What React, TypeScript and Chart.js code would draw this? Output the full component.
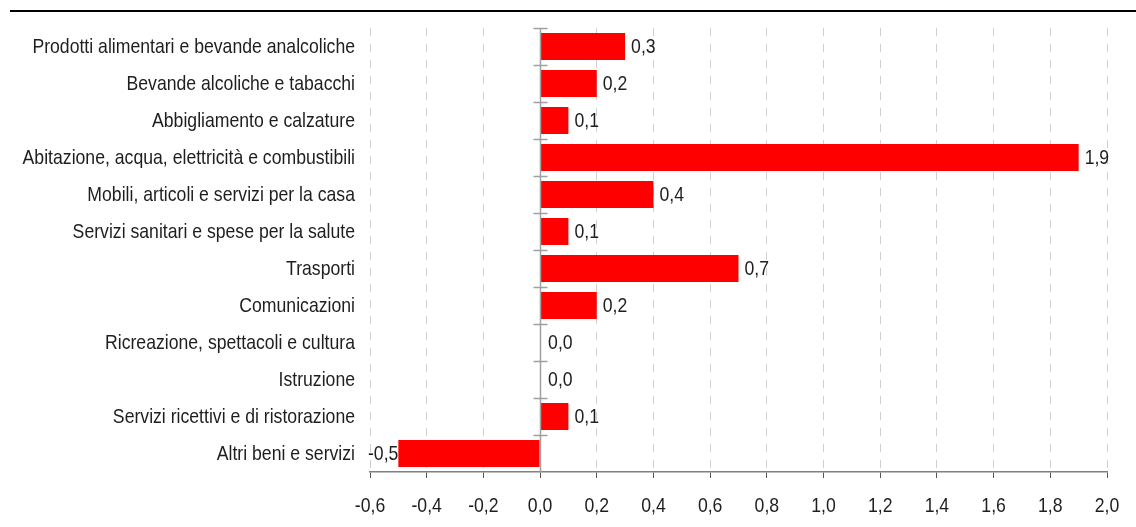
import React, { useEffect, useRef } from "react";
import { Chart, registerables } from "chart.js";

Chart.register(...registerables);

const categories = [
  "Prodotti alimentari e bevande analcoliche",
  "Bevande alcoliche e tabacchi",
  "Abbigliamento e calzature",
  "Abitazione, acqua, elettricità e combustibili",
  "Mobili, articoli e servizi per la casa",
  "Servizi sanitari e spese per la salute",
  "Trasporti",
  "Comunicazioni",
  "Ricreazione, spettacoli e cultura",
  "Istruzione",
  "Servizi ricettivi e di ristorazione",
  "Altri beni e servizi",
];

const values = [0.3, 0.2, 0.1, 1.9, 0.4, 0.1, 0.7, 0.2, 0.0, 0.0, 0.1, -0.5];

const xMin = -0.6;
const xMax = 2.0;
const xStep = 0.2;

const FONT = "'Liberation Sans', Arial, sans-serif";
const FSIZE = 21;
const SQUEEZE = 0.84;
const TEXT = "#1e1e1e";

const fmt = (v: number) => v.toFixed(1).replace(".", ",");

function narrowText(ctx: CanvasRenderingContext2D, t: string, x: number, y: number, align: CanvasTextAlign) {
  ctx.save();
  ctx.translate(x, y);
  ctx.scale(SQUEEZE, 1);
  ctx.textAlign = align;
  ctx.textBaseline = "alphabetic";
  ctx.fillText(t, 0, 0);
  ctx.restore();
}

const decorPlugin = {
  id: "decor",
  beforeDraw(chart: any) {
    const ctx = chart.ctx;
    ctx.save();
    ctx.strokeStyle = "#000";
    ctx.lineWidth = 2;
    ctx.beginPath();
    ctx.moveTo(10, 11);
    ctx.lineTo(chart.width, 11);
    ctx.stroke();
    ctx.restore();
  },
  afterDatasetsDraw(chart: any) {
    const ctx = chart.ctx;
    const area = chart.chartArea;
    const xs = chart.scales.x;
    const ys = chart.scales.y;
    const x0 = Math.round(xs.getPixelForValue(0)) + 0.5;
    const n = categories.length;
    const band = (area.bottom - area.top) / n;
    ctx.save();
    ctx.strokeStyle = "#a0a0a0";
    ctx.lineWidth = 1.5;
    ctx.beginPath();
    ctx.moveTo(x0, area.top);
    ctx.lineTo(x0, area.bottom);
    for (let i = 0; i < n; i++) {
      const y = Math.round(area.top + i * band) + 0.5;
      ctx.moveTo(x0 - 7, y);
      ctx.lineTo(x0 + 7, y);
    }
    ctx.stroke();

    ctx.fillStyle = TEXT;
    ctx.font = `${FSIZE}px ${FONT}`;

    // category labels
    categories.forEach((c, i) => {
      const y = ys.getPixelForValue(i);
      narrowText(ctx, c, area.left - 15, y + 6.5, "right");
    });

    // x tick labels
    xs.ticks.forEach((t: any) => {
      const x = xs.getPixelForValue(t.value);
      narrowText(ctx, fmt(t.value), x, 512, "center");
    });

    // data labels
    const meta = chart.getDatasetMeta(0);
    meta.data.forEach((bar: any, i: number) => {
      const v = values[i];
      const t = fmt(v);
      if (v < 0) {
        narrowText(ctx, t, bar.x, bar.y + 6.5, "right");
      } else {
        narrowText(ctx, t, bar.x + (v === 0 ? 8 : 6), bar.y + 6.5, "left");
      }
    });
    ctx.restore();
  },
};

export default function App() {
  const ref = useRef<HTMLCanvasElement>(null);
  useEffect(() => {
    const chart = new Chart(ref.current!, {
      type: "bar",
      data: {
        labels: categories,
        datasets: [
          {
            data: values,
            backgroundColor: "#ff0000",
            borderWidth: 0,
            categoryPercentage: 1,
            barPercentage: 0.73,
          },
        ],
      },
      options: {
        indexAxis: "y",
        animation: false,
        responsive: false,
        maintainAspectRatio: false,
        layout: { padding: { top: 28, right: 29, bottom: 0, left: 0 } },
        plugins: {
          legend: { display: false },
          tooltip: { enabled: false },
        },
        scales: {
          x: {
            type: "linear",
            min: xMin,
            max: xMax,
            afterFit: (s: any) => {
              s.height = 55;
            },
            ticks: {
              stepSize: xStep,
              color: "rgba(0,0,0,0)",
              padding: 8,
              font: { family: FONT, size: 17 },
              callback: (v: any) => fmt(Number(v)),
            },
            grid: {
              color: (c: any) =>
                c.tick && Math.abs(c.tick.value) < 1e-9 ? "rgba(0,0,0,0)" : "#cfcfcf",
              tickColor: "#555",
              tickLength: 6,
              lineWidth: 1,
            },
            border: { display: true, color: "#808080", width: 1.5, dash: [8, 8] },
          },
          y: {
            type: "category",
            afterFit: (s: any) => {
              s.width = 370;
            },
            grid: { display: false, drawTicks: false },
            border: { display: false },
            ticks: {
              color: "rgba(0,0,0,0)",
              padding: 15,
              font: { family: FONT, size: 17 },
            },
          },
        },
      },
      plugins: [decorPlugin],
    });
    return () => chart.destroy();
  }, []);
  return (
    <div style={{ position: "fixed", left: 0, top: 0, width: 1136, height: 527, background: "#fff" }}>
      <canvas ref={ref} width={1136} height={527} style={{ width: 1136, height: 527 }} />
    </div>
  );
}
